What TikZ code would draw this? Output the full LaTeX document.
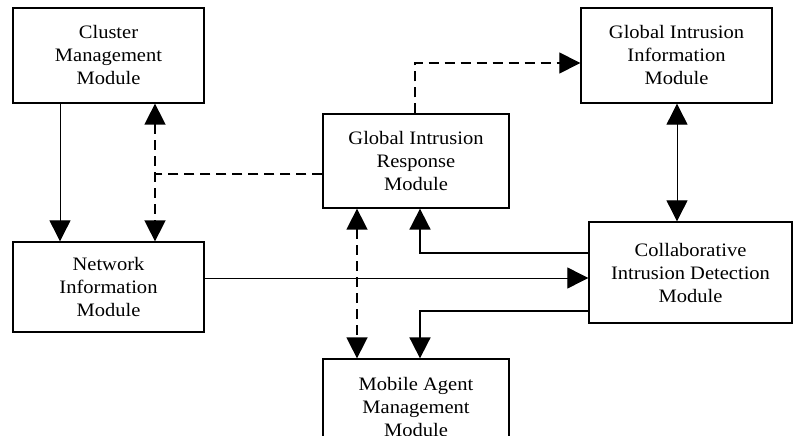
\documentclass[tikz,border=0pt]{standalone}
\usepackage{fontspec}
\setmainfont{Liberation Serif}[FakeStretch=1.08]
\usetikzlibrary{arrows.meta}
\begin{document}
\begin{tikzpicture}[x=1pt,y=-1pt,
  box/.style={draw,line width=1.3pt,rectangle,inner sep=0pt,align=center,
    font=\fontsize{19}{23}\selectfont},
  Tri/.tip={Triangle[length=21pt,width=21pt]},
  thinline/.style={line width=0.9pt},
  thickline/.style={line width=1.8pt},
  dashline/.style={line width=1.6pt,dash pattern=on 10pt off 6pt},
  dashthin/.style={line width=1.1pt,dash pattern=on 10pt off 6pt}]
\useasboundingbox (0,0) rectangle (793,436);
\clip (0,0) rectangle (793,436);
\fill[white] (0,0) rectangle (793,436);
\node[box,minimum width=191pt,minimum height=95pt] (cl) at (108.5,55.5) {Cluster\\Management\\Module};
\node[box,minimum width=186pt,minimum height=94pt] (gir) at (416,161) {Global Intrusion\\Response\\Module};
\node[box,minimum width=191pt,minimum height=95pt] (gii) at (676.5,55.5) {Global Intrusion\\Information\\Module};
\node[box,minimum width=191pt,minimum height=90pt] (net) at (108.5,287) {Network\\Information\\Module};
\node[box,minimum width=186pt,minimum height=95pt] (mob) at (416,406.5) {Mobile Agent\\Management\\Module};
\node[box,minimum width=203pt,minimum height=101pt] (col) at (690.5,272.5) {Collaborative\\Intrusion Detection\\Module};
\coordinate (xA) at (60,0);
\coordinate (xB) at (155,0);
\coordinate (xC) at (357,0);
\coordinate (xD) at (415,0);
\coordinate (xE) at (420,0);
\coordinate (xF) at (677,0);
\coordinate (yA) at (0,174);
\coordinate (yB) at (0,63);
\coordinate (yC) at (0,253);
\coordinate (yD) at (0,278);
\coordinate (yE) at (0,311);
\draw[thinline,-Tri] (cl.south -| xA) -- (net.north -| xA);
\draw[dashline,Tri-Tri] (cl.south -| xB) -- (net.north -| xB);
\draw[dashline] (gir.west |- yA) -- (xB |- yA);
\draw[dashthin,-Tri] (gir.north -| xD) -- (xD |- yB) -- (gii.west |- yB);
\draw[thinline,Tri-Tri] (gii.south -| xF) -- (col.north -| xF);
\draw[thickline,-Tri] (col.west |- yC) -- (xE |- yC) -- (gir.south -| xE);
\draw[thinline,-Tri] (net.east |- yD) -- (col.west |- yD);
\draw[thickline,-Tri] (col.west |- yE) -- (xE |- yE) -- (mob.north -| xE);
\draw[dashline,Tri-Tri] (gir.south -| xC) -- (mob.north -| xC);
\end{tikzpicture}
\end{document}
